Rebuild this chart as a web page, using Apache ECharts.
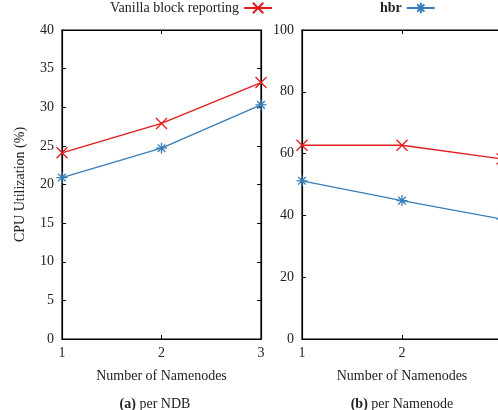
<!DOCTYPE html>
<html>
<head>
<meta charset="utf-8">
<script src="https://cdn.jsdelivr.net/npm/echarts@6/dist/echarts.min.js"></script>
<style>
  html, body { margin: 0; padding: 0; background: #fff; }
  #chart { width: 498px; height: 410px; }
</style>
</head>
<body>
<div id="chart"></div>
<script>
// data
const namenodes = [1, 2, 3];
const ndbVanilla = [24.1, 27.9, 33.2];
const ndbHbr = [20.9, 24.7, 30.3];
const nnVanilla = [62.7, 62.7, 58.3];
const nnHbr = [51.2, 44.8, 38.8];
const ndbTicks = [0, 40, 5];
const nnTicks = [0, 100, 20];

const RED = "#e41a1c";
const BLUE = "#377eb8";
const FONT = "Liberation Serif";
const crossPath = "path://M0,0L10,10M10,0L0,10";
const starPath = "path://M5,0L5,10M0,5L10,5M1.5,1.5L8.5,8.5M8.5,1.5L1.5,8.5";

const pairs = (xs, ys) => xs.map((x, i) => [x, ys[i]]);

const myChart = echarts.init(document.getElementById("chart"));

const axisLine = { show: true, onZero: false, lineStyle: { color: "#000", width: 1.2 } };
const tick = { show: true, inside: true, length: 4, lineStyle: { color: "#000", width: 1 } };
const label = { color: "#222", fontFamily: FONT, fontSize: 14 };

// x axis pair (bottom + mirror top) for one grid
function xAxes(grid) {
  return [
    {
      type: "value", gridIndex: grid, position: "bottom", min: 1, max: 3, interval: 1,
      axisLine: axisLine, axisTick: tick, splitLine: { show: false },
      axisLabel: Object.assign({ margin: 7 }, label),
      name: "Number of Namenodes",
      nameLocation: "middle", nameGap: 30,
      nameTextStyle: { color: "#222", fontFamily: FONT, fontSize: 14 },
    },
    {
      type: "value", gridIndex: grid, position: "top", min: 1, max: 3, interval: 1,
      axisLine: { show: true, onZero: false, lineStyle: { color: "#000", width: 1.2 } },
      axisTick: tick, splitLine: { show: false },
      axisLabel: { show: false },
    },
  ];
}

function yAxes(grid, t, name) {
  return [
    {
      type: "value", gridIndex: grid, position: "left", min: t[0], max: t[1], interval: t[2],
      axisLine: axisLine, axisTick: tick, splitLine: { show: false },
      axisLabel: Object.assign({ margin: 8 }, label),
      name: name, nameLocation: "middle", nameGap: 35,
      nameTextStyle: { color: "#222", fontFamily: FONT, fontSize: 14 },
    },
    {
      type: "value", gridIndex: grid, position: "right", min: t[0], max: t[1], interval: t[2],
      axisLine: { show: true, onZero: false, lineStyle: { color: "#000", width: 1.2 } },
      axisTick: tick, splitLine: { show: false },
      axisLabel: { show: false },
    },
  ];
}

function line(name, color, symbol, x, y, data) {
  return {
    name: name, type: "line", xAxisIndex: x, yAxisIndex: y,
    data: data, symbol: symbol, symbolSize: 11, showSymbol: true,
    lineStyle: { color: color, width: 1.3 },
    itemStyle: { color: "rgba(0,0,0,0)", borderColor: color, borderWidth: 1.3 },
    emphasis: { disabled: true },
    animation: false,
  };
}

const captionStyle = {
  color: "#222", fontFamily: FONT, fontSize: 14, fontWeight: "normal",
  rich: { b: { fontFamily: FONT, fontSize: 14, fontWeight: "bold", color: "#222" } },
};

const legendText = { color: "#222", fontFamily: FONT, fontSize: 14 };

const option = {
  animation: false,
  legend: [
    {
      data: ["Vanilla block reporting"], left: 110, top: 1, padding: 0,
      align: "right", itemWidth: 28, itemHeight: 13,
      textStyle: legendText,
    },
    {
      data: ["hbr"], left: 380, top: 1, padding: 0,
      align: "right", itemWidth: 28, itemHeight: 13,
      textStyle: Object.assign({ fontWeight: "bold" }, legendText),
    },
  ],
  title: [
    { text: "{b|(a)} per NDB", left: 155, top: 397, padding: 0, textAlign: "center", textStyle: captionStyle },
    { text: "{b|(b)} per Namenode", left: 402, top: 397, padding: 0, textAlign: "center", textStyle: captionStyle },
  ],
  grid: [
    {
      left: 62, top: 30, width: 199, height: 309, outerBoundsMode: "none",
      show: true, borderColor: "#000", borderWidth: 1.2, backgroundColor: "transparent",
    },
    {
      left: 302, top: 30, width: 200, height: 309, outerBoundsMode: "none",
      show: true, borderColor: "#000", borderWidth: 1.2, backgroundColor: "transparent",
    },
  ],
  xAxis: xAxes(0).concat(xAxes(1)),
  yAxis: yAxes(0, ndbTicks, "CPU Utilization (%)").concat(yAxes(1, nnTicks, "")),
  series: [
    line("Vanilla block reporting", RED, crossPath, 0, 0, pairs(namenodes, ndbVanilla)),
    line("hbr", BLUE, starPath, 0, 0, pairs(namenodes, ndbHbr)),
    line("Vanilla block reporting", RED, crossPath, 2, 2, pairs(namenodes, nnVanilla)),
    line("hbr", BLUE, starPath, 2, 2, pairs(namenodes, nnHbr)),
  ],
};

myChart.setOption(option);
</script>
</body>
</html>
